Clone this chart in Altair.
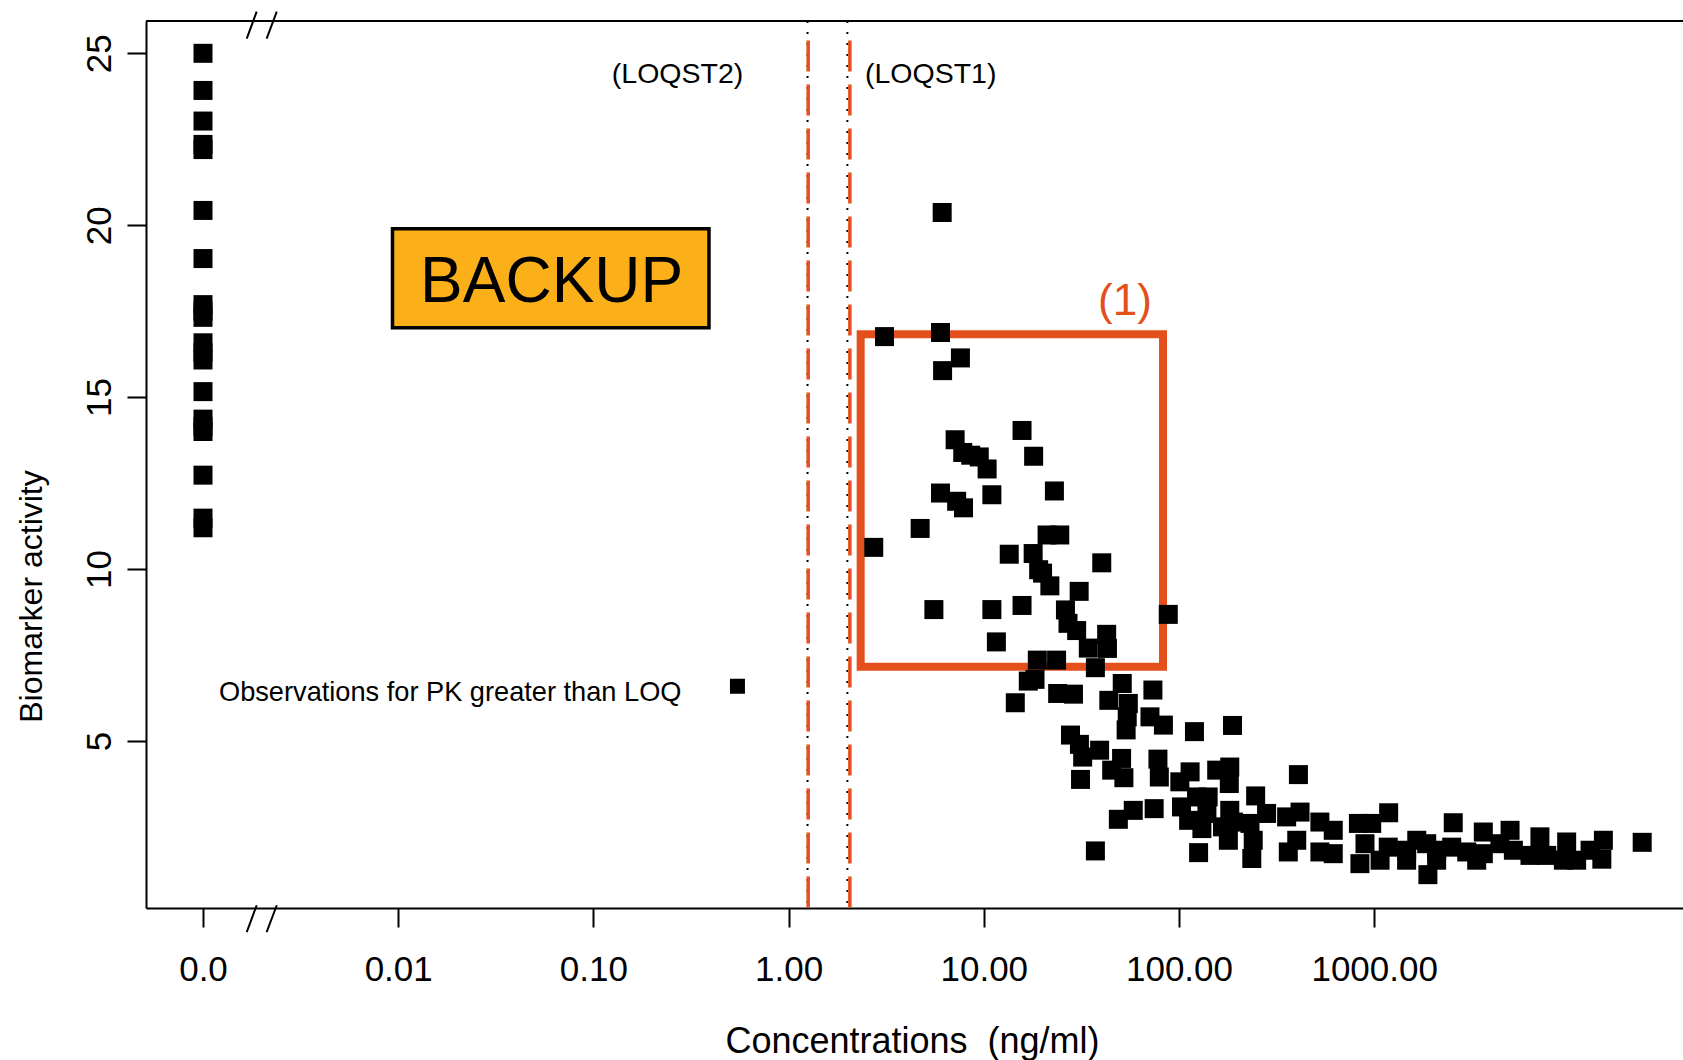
import math

import altair as alt
import pandas as pd

# ---------------------------------------------------------------------------
# Data
# ---------------------------------------------------------------------------
# Concentrations below the limit of quantification are drawn at "0.0",
# one decade to the left of 0.01 on the (broken) log axis.
ZERO_POS = -3.0

# Biomarker activity of samples whose concentration is 0.0 (below LOQ)
blq_activity = [25.0, 23.92, 23.03, 22.35, 22.2, 20.43, 19.03, 17.69, 17.5, 17.32,
                16.58, 16.3, 16.08, 15.16, 14.36, 14.15, 14.0, 12.73, 11.48, 11.2]

# Quantified samples: concentration (ng/ml) and biomarker activity
conc = [6.12, 3.10, 6.00, 7.59, 6.15, 15.7, 7.13, 18.0, 7.80, 8.57,
        9.48, 10.4, 6.00, 7.26, 7.87, 11.0, 23.0, 4.72, 2.73, 21.1,
        24.5, 13.5, 17.9, 19.1, 20.0, 21.8, 40.2, 30.8, 5.55, 11.0,
        15.7, 26.2, 27.0, 29.9, 42.6, 34.3, 43.0, 88.1, 11.6, 18.8,
        23.6, 37.3, 16.9, 18.3, 14.5, 23.9, 28.8, 51.2, 73.5, 43.7,
        55.0, 54.3, 71.0, 83.2, 53.6, 27.8, 30.9, 39.2, 32.1, 50.8,
        78.0, 120, 188, 31.3, 45.2, 52.2, 79.3, 114, 101, 182,
        156, 181, 409, 48.9, 58.3, 74.6, 37.3, 103, 123, 141,
        112, 131, 139, 126, 182, 167, 179, 190, 247, 231,
        236, 240, 281, 356, 417, 363, 401, 527, 617, 527,
        617, 830, 971, 845, 897, 1186, 1072, 1180, 1466, 1652,
        1858, 2089, 1466, 2089, 1884, 2541, 2495, 2979, 3622, 3350,
        3622, 4966, 4406, 5164, 7063, 6281, 7656, 9683, 10890, 9311,
        14930, 14660, 12760, 23600]
activity = [20.37, 16.76, 16.88, 16.14, 15.77, 14.03, 13.76, 13.28, 13.39, 13.31,
            13.26, 12.91, 12.21, 11.97, 11.78, 12.16, 12.27, 11.18, 10.63, 10.99,
            10.99, 10.43, 10.45, 9.98, 9.88, 9.51, 10.18, 9.35, 8.82, 8.82,
            8.94, 8.81, 8.42, 8.21, 8.10, 7.70, 7.69, 8.68, 7.88, 7.35,
            7.35, 7.13, 6.74, 6.79, 6.11, 6.38, 6.36, 6.67, 6.48, 6.18,
            6.09, 5.70, 5.70, 5.46, 5.32, 5.17, 4.90, 4.73, 4.53, 4.49,
            4.47, 5.27, 5.45, 3.88, 4.15, 3.93, 3.95, 4.10, 3.81, 4.24,
            4.15, 3.76, 4.02, 2.72, 2.98, 3.03, 1.80, 3.08, 3.37, 3.37,
            2.69, 2.45, 2.89, 1.75, 2.98, 2.50, 2.11, 2.64, 3.40, 2.60,
            1.58, 2.11, 2.89, 2.79, 2.93, 1.77, 2.11, 2.64, 2.40, 1.77,
            1.72, 2.60, 2.60, 1.43, 2.01, 2.91, 1.53, 1.91, 1.82, 2.11,
            2.01, 1.82, 1.53, 1.53, 1.11, 2.62, 1.91, 1.77, 2.35, 1.53,
            1.72, 2.40, 2.01, 1.82, 2.21, 1.67, 1.67, 2.06, 1.53, 1.53,
            2.11, 1.56, 1.82, 2.05]

# Single observation for PK greater than LOQ
pk_conc = [0.547]
pk_activity = [6.59]

# Limits of quantification (ng/ml): plotted lines and highlighted overlay
loq_values = [1.25, 2.0]
loq_highlight = [1.26, 2.06]

# Axis ticks
x_tick_pos = [-3, -2, -1, 0, 1, 2, 3]
x_tick_labels = ["0.0", "0.01", "0.10", "1.00", "10.00", "100.00", "1000.00"]
y_ticks = [5, 10, 15, 20, 25]

# ---------------------------------------------------------------------------
# Layout and style
# ---------------------------------------------------------------------------
FONT = "Liberation Sans"
ORANGE = "#E4501C"
GOLD = "#FBB01A"
W, H = 1537, 887
PX_PER_DECADE = 195.2
PX_PER_UNIT = 34.38
X_MIN, Y_MIN = -3.292, 0.14
x_dom = [X_MIN, X_MIN + W / PX_PER_DECADE]
y_dom = [Y_MIN, Y_MIN + H / PX_PER_UNIT]


def to_pos(c):
    """Position on the broken log axis: log10 of the concentration, 0 -> ZERO_POS."""
    return math.log10(c) if c > 0 else ZERO_POS


label_expr = f"'{x_tick_labels[-1]}'"
for p, lab in reversed(list(zip(x_tick_pos[:-1], x_tick_labels[:-1]))):
    label_expr = f"datum.value == {p} ? '{lab}' : ({label_expr})"

xs = alt.Scale(domain=x_dom, nice=False, zero=False)
ys = alt.Scale(domain=y_dom, nice=False, zero=False)

x_axis = alt.Axis(
    values=x_tick_pos, labelExpr=label_expr, grid=False,
    domainColor="black", domainWidth=2, tickColor="black", tickWidth=2, tickSize=19,
    labelFont=FONT, labelFontSize=35, labelColor="black", labelPadding=53,
    labelBaseline="alphabetic", labelOverlap=False, labelFlush=False, labelBound=False,
    title="Concentrations\u00a0\u00a0(ng/ml)", titleFont=FONT, titleFontSize=36,
    titleFontWeight="normal", titleColor="black", titleX=766, titleY=144,
    titleAlign="center", titleBaseline="alphabetic",
)
y_axis = alt.Axis(
    values=y_ticks, grid=False,
    domainColor="black", domainWidth=2, tickColor="black", tickWidth=2, tickSize=19,
    labelFont=FONT, labelFontSize=35, labelColor="black", labelPadding=17,
    labelAngle=270, labelAlign="center", labelBaseline="alphabetic",
    labelOverlap=False, labelFlush=False, labelBound=False,
    title="Biomarker activity", titleFont=FONT, titleFontSize=32,
    titleFontWeight="normal", titleColor="black", titleAngle=270,
    titleX=-105, titleY=575, titleAlign="center", titleBaseline="alphabetic",
)


def X(field):
    return alt.X(f"{field}:Q", scale=xs, axis=x_axis)


def Y(field):
    return alt.Y(f"{field}:Q", scale=ys, axis=y_axis)


# ---------------------------------------------------------------------------
# Tables
# ---------------------------------------------------------------------------
obs = pd.DataFrame({
    "pos": [to_pos(0)] * len(blq_activity) + [to_pos(c) for c in conc],
    "activity": blq_activity + activity,
})
pk = pd.DataFrame({"pos": [to_pos(c) for c in pk_conc], "activity": pk_activity})
loq = pd.DataFrame({"pos": [to_pos(c) for c in loq_values]})
loq_hl = pd.DataFrame({
    "pos": [to_pos(c) for c in loq_highlight],
    "top": [25.37] * len(loq_highlight),
    "bottom": [Y_MIN] * len(loq_highlight),
})

# Highlighted region (1) and the BACKUP banner
region = pd.DataFrame({"x1": [to_pos(2.34)], "x2": [to_pos(82.8)], "y1": [16.83], "y2": [7.16]})
banner = pd.DataFrame({"x1": [to_pos(0.00935)], "x2": [to_pos(0.391)], "y1": [19.90], "y2": [17.02]})

# Slanted marks showing the break between 0.0 and 0.01
brk = pd.DataFrame({
    "x1": [-2.776, -2.674, -2.776, -2.674],
    "x2": [-2.725, -2.622, -2.725, -2.622],
    "y1": [25.43, 25.43, -0.56, -0.56],
    "y2": [26.21, 26.21, 0.22, 0.22],
})

loq_text = pd.DataFrame({"pos": [-0.569, 0.728], "y": [24.13, 24.13],
                         "label": ["(LOQST2)", "(LOQST1)"]})
obs_text = pd.DataFrame({"pos": [-0.549], "y": [6.15],
                         "label": ["Observations for PK greater than LOQ"]})
banner_text = pd.DataFrame({"pos": [-1.214], "y": [17.77], "label": ["BACKUP"]})
region_text = pd.DataFrame({"pos": [1.723], "y": [17.38], "label": ["(1)"]})

# ---------------------------------------------------------------------------
# Layers
# ---------------------------------------------------------------------------
top_border = alt.Chart(pd.DataFrame({"k": [0]})).mark_rule(
    color="black", strokeWidth=2
).encode(x=alt.value(0), x2=alt.value(W), y=alt.value(0))

loq_rules = alt.Chart(loq).mark_rule(
    color="black", strokeWidth=2, strokeDash=[2, 9]
).encode(x=X("pos"), y=alt.value(0), y2=alt.value(H))

loq_hl_rules = alt.Chart(loq_hl).mark_rule(
    color=ORANGE, strokeWidth=3.5, strokeDash=[31, 13]
).encode(x=X("pos"), y=Y("top"), y2="bottom:Q")

points = alt.Chart(obs).mark_square(
    size=361, color="black", opacity=1, strokeWidth=0
).encode(x=X("pos"), y=Y("activity"))

pk_point = alt.Chart(pk).mark_square(
    size=225, color="black", opacity=1, strokeWidth=0
).encode(x=X("pos"), y=Y("activity"))

region_box = alt.Chart(region).mark_rect(
    fillOpacity=0, stroke=ORANGE, strokeWidth=8, strokeJoin="miter"
).encode(x=X("x1"), x2="x2:Q", y=Y("y1"), y2="y2:Q")

banner_box = alt.Chart(banner).mark_rect(
    fill=GOLD, stroke="black", strokeWidth=3.5, strokeJoin="miter"
).encode(x=X("x1"), x2="x2:Q", y=Y("y1"), y2="y2:Q")

breaks = alt.Chart(brk).mark_rule(
    color="black", strokeWidth=2, clip=False
).encode(x=X("x1"), x2="x2:Q", y=Y("y1"), y2="y2:Q")


def text_layer(df, size, align, color="black"):
    return alt.Chart(df).mark_text(
        font=FONT, fontSize=size, align=align, baseline="alphabetic", color=color
    ).encode(x=X("pos"), y=Y("y"), text="label:N")


chart = alt.layer(
    top_border,
    loq_rules,
    loq_hl_rules,
    banner_box,
    region_box,
    points,
    pk_point,
    breaks,
    text_layer(loq_text, 28.5, "center"),
    text_layer(obs_text, 27.2, "right"),
    text_layer(banner_text, 64, "center"),
    text_layer(region_text, 44, "center", ORANGE),
).properties(
    width=W,
    height=H,
    padding={"left": 146, "top": 21, "right": 0, "bottom": 152},
    autosize=alt.AutoSizeParams(type="none"),
    background="white",
).configure_view(strokeWidth=0)

chart.save("out.html", embed_options={"renderer": "svg", "actions": False})
